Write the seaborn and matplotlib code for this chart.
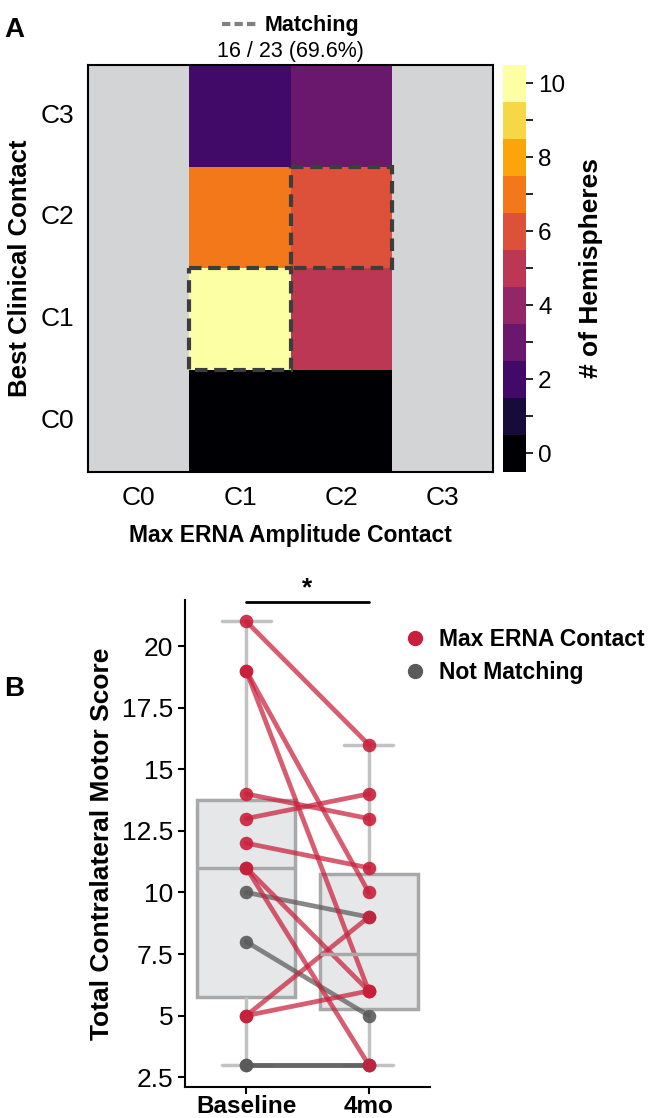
import numpy as np
import pandas as pd
import matplotlib
matplotlib.use("Agg")
import matplotlib.pyplot as plt
from matplotlib.colors import ListedColormap
from matplotlib.lines import Line2D
from matplotlib.patches import Rectangle
from matplotlib.ticker import FuncFormatter
import seaborn as sns

# --- data: panel A (counts, NaN = not possible) ---
contacts = ["C0", "C1", "C2", "C3"]
clinical_rows = ["C3", "C2", "C1", "C0"]
count_C0 = [np.nan, np.nan, np.nan, np.nan]
count_C1 = [2, 7, 10, 0]
count_C2 = [3, 6, 5, 0]
count_C3 = [np.nan, np.nan, np.nan, np.nan]
matching_contacts = ["C1", "C2"]
match_text = "16 / 23 (69.6%)"

# --- data: panel B (paired scores) ---
timepoints = ["Baseline", "4mo"]
baseline = [21, 19, 19, 14, 13, 12, 11, 11, 5, 5, 10, 8, 3, 3]
month4 = [16, 10, 6, 13, 14, 11, 6, 3, 9, 6, 9, 5, 3, 3]
group = ["Max ERNA Contact"] * 10 + ["Not Matching"] * 4

sns.set_theme(style="white")
plt.rcParams["font.family"] = ["Liberation Sans", "DejaVu Sans"]
for k in ["text.color", "axes.labelcolor", "xtick.color", "ytick.color"]:
    plt.rcParams[k] = "black"

fig = plt.figure(figsize=(6.62, 11.18), dpi=100)

# ---------------- panel A ----------------
ax1 = fig.add_axes([0.133, 0.578, 0.612, 0.364])
cax = fig.add_axes([0.760, 0.578, 0.035, 0.364])

heat = pd.DataFrame({"C0": count_C0, "C1": count_C1, "C2": count_C2, "C3": count_C3},
                    index=clinical_rows)[contacts]
cmap = ListedColormap(sns.color_palette("inferno", as_cmap=True)(np.linspace(0, 1, 11)))
sns.heatmap(heat, ax=ax1, cbar_ax=cax, cmap=cmap, vmin=-0.5, vmax=10.5)
ax1.set_facecolor("#d3d4d6")
for s in ax1.spines.values():
    s.set_visible(True)
    s.set_color("black")
    s.set_linewidth(1.5)

for c in matching_contacts:
    j = contacts.index(c)
    i = clinical_rows.index(c)
    ax1.add_patch(Rectangle((j, i), 1, 1, fill=False, edgecolor="#3d3d3d",
                            linestyle=(0, (3, 1.6)), linewidth=3, zorder=5, clip_on=False))

ax1.tick_params(axis="both", length=0, labelsize=19, pad=10)
ax1.set_yticklabels(clinical_rows, rotation=0)
ax1.set_xticklabels(contacts, rotation=0)
ax1.set_xlabel("Max ERNA Amplitude Contact", fontsize=16.5, fontweight="bold", labelpad=10)
ax1.set_ylabel("Best Clinical Contact", fontsize=18.5, fontweight="bold", labelpad=6)

cbar = ax1.collections[0].colorbar
cbar.set_ticks(range(11))
cbar.set_ticklabels([str(v) if v % 2 == 0 else "" for v in range(11)])
cbar.ax.tick_params(labelsize=17.5, length=5, width=1.2, direction="out", right=True)
cbar.outline.set_visible(True)
cbar.outline.set_edgecolor("black")
cbar.set_label("# of Hemispheres", fontsize=19, fontweight="bold", labelpad=10)

ax1.set_title(match_text, fontsize=15.5, pad=6)
ax1.legend(handles=[Line2D([], [], color="#808080", linestyle=(0, (2, 1)), linewidth=3)],
           labels=["Matching"], loc="lower center", bbox_to_anchor=(0.5, 1.07),
           frameon=False, prop={"size": 15.5, "weight": "bold"},
           handlelength=1.6, handletextpad=0.4, borderaxespad=0, borderpad=0)

fig.text(0.006, 0.985, "A", fontsize=20, fontweight="bold", va="top")

# ---------------- panel B ----------------
ax2 = fig.add_axes([0.2795, 0.0277, 0.370, 0.4356])

ids = list(range(len(baseline)))
long = pd.DataFrame({
    "id": ids + ids,
    "time": [timepoints[0]] * len(ids) + [timepoints[1]] * len(ids),
    "score": baseline + month4,
    "group": group + group,
})

sns.boxplot(data=long, x="time", y="score", order=timepoints, ax=ax2, width=0.8,
            color="#e6e7e9", linecolor="#a8a8a8", linewidth=2.5, showfliers=False,
            whiskerprops={"color": "#c2c2c2"}, capprops={"color": "#c2c2c2"},
            boxprops={"zorder": 1})

colors = {"Max ERNA Contact": "#c8203a", "Not Matching": "#5a5a5a"}
for g in ["Not Matching", "Max ERNA Contact"]:
    sub = long[long["group"] == g]
    sns.lineplot(data=sub, x="time", y="score", units="id", estimator=None, ax=ax2,
                 color=colors[g], linewidth=3.4, alpha=0.72, legend=False, sort=False)
    sns.scatterplot(data=sub, x="time", y="score", ax=ax2, color=colors[g], s=95,
                    alpha=0.9, linewidth=0, legend=False, zorder=4)

ax2.set_xlim(-0.5, 1.5)
ax2.set_ylim(2.1, 21.87)
ax2.set_yticks([2.5, 5, 7.5, 10, 12.5, 15, 17.5, 20])
ax2.yaxis.set_major_formatter(FuncFormatter(lambda v, p: f"{v:g}"))
ax2.tick_params(axis="y", labelsize=19, length=5, width=1.5, left=True)
ax2.tick_params(axis="x", labelsize=17.5, length=5, width=1.5, bottom=True, pad=1)
for lab in ax2.get_xticklabels():
    lab.set_fontweight("bold")
ax2.set_xlabel("")
ax2.set_ylabel("Total Contralateral Motor Score", fontsize=19, fontweight="bold", labelpad=6)
sns.despine(ax=ax2)
for s in ["left", "bottom"]:
    ax2.spines[s].set_color("black")
    ax2.spines[s].set_linewidth(1.5)

# significance bar
trans = ax2.get_xaxis_transform()
ax2.plot([0, 1], [0.995, 0.995], color="black", linewidth=2, transform=trans, clip_on=False)
ax2.text(0.5, 1.0, "*", transform=trans, ha="center", va="bottom", fontsize=19, fontweight="bold")

handles = [Line2D([], [], marker="o", linestyle="", color=colors[g], markersize=10)
           for g in colors]
ax2.legend(handles, list(colors), loc="upper left", bbox_to_anchor=(0.76, 0.985),
           frameon=False, prop={"size": 16.5, "weight": "bold"},
           handletextpad=0.05, labelspacing=0.45)

fig.text(0.006, 0.395, "B", fontsize=20, fontweight="bold", va="top")

fig.savefig("out.png", dpi=100)
